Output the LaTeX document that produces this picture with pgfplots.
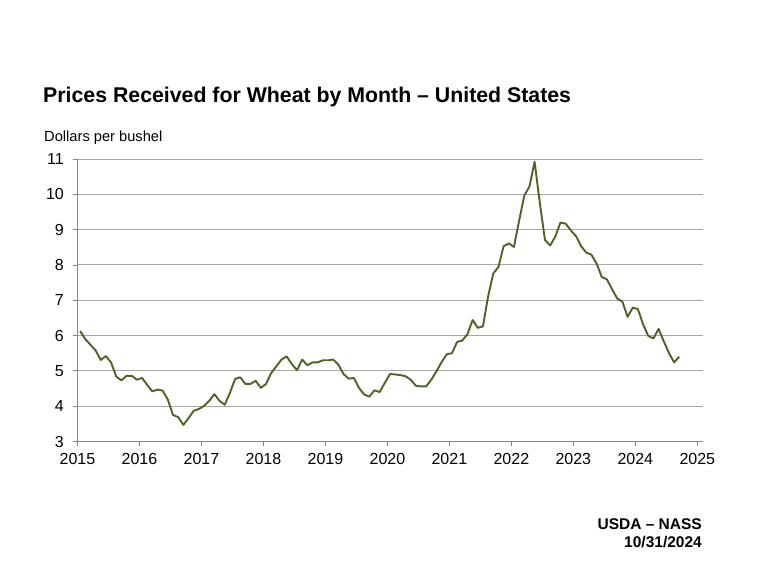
\documentclass[border=0pt]{standalone}
\usepackage{pgfplots}
\pgfplotsset{compat=1.18}
\usepackage{pgfplotstable}
\usepackage{fontspec}
\setmainfont{Liberation Sans}
\definecolor{wheat}{HTML}{4F6228}
\definecolor{gridc}{HTML}{A6A6A6}
\definecolor{axisc}{HTML}{868686}
\pgfplotstableread{
p
6.13
5.90
5.74
5.58
5.31
5.42
5.24
4.84
4.73
4.86
4.86
4.75
4.80
4.60
4.42
4.47
4.44
4.18
3.75
3.69
3.47
3.66
3.87
3.92
4.01
4.15
4.34
4.15
4.04
4.37
4.77
4.82
4.63
4.63
4.72
4.52
4.63
4.94
5.13
5.32
5.41
5.19
5.02
5.32
5.16
5.24
5.24
5.30
5.30
5.32
5.18
4.91
4.78
4.80
4.52
4.33
4.27
4.45
4.40
4.66
4.91
4.90
4.88
4.85
4.75
4.58
4.56
4.56
4.75
4.99
5.25
5.47
5.50
5.82
5.86
6.04
6.44
6.22
6.26
7.11
7.76
7.94
8.53
8.61
8.51
9.25
9.96
10.22
10.92
9.77
8.71
8.55
8.80
9.20
9.17
8.98
8.82
8.53
8.35
8.29
8.04
7.66
7.59
7.31
7.05
6.96
6.53
6.79
6.75
6.32
5.99
5.92
6.19
5.84
5.51
5.24
5.40
}\prices
\begin{document}
\begin{tikzpicture}
\useasboundingbox (0,0) rectangle (760pt,570pt);
\begin{axis}[
  at={(77.5pt,128.5pt)}, anchor=south west,
  scale only axis, width=625.2pt, height=282.5pt,
  xmin=2015, xmax=2025.087, ymin=3, ymax=11,
  xtick={2015,2016,...,2025}, ytick={3,4,...,11},
  axis x line*=bottom, axis y line*=left,
  axis line style={axisc, line width=0.8pt, -},
  ymajorgrids, grid style={gridc, line width=0.9pt},
  tick align=outside, major tick length=5pt,
  tick style={axisc, line width=0.8pt},
  /pgf/number format/assume math mode=true,
  /pgf/number format/1000 sep={},
  ticklabel style={font=\fontsize{16}{18}\selectfont, inner sep=0pt},
  yticklabel style={anchor=east, xshift=-13.5pt+5pt},
  xticklabel style={anchor=north, yshift=-11.5pt+5pt},
  clip=false,
]
\addplot[wheat, line width=1.9pt, line join=round] table[x expr={2015+(\coordindex+0.5)/12}, y=p] {\prices};
\end{axis}
\node[anchor=base west, inner sep=0pt, font=\fontsize{21.3}{24}\selectfont\bfseries] at (43pt,467pt) {Prices Received for Wheat by Month – United States};
\node[anchor=base west, inner sep=0pt, font=\fontsize{14.67}{17}\selectfont] at (44pt,428pt) {Dollars per bushel};
\node[anchor=base east, inner sep=0pt, font=\fontsize{15.5}{18}\selectfont\bfseries] at (702pt,40pt) {USDA – NASS};
\node[anchor=base east, inner sep=0pt, font=\fontsize{15.5}{18}\selectfont\bfseries] at (702pt,23pt) {10/31/2024};
\end{tikzpicture}
\end{document}
